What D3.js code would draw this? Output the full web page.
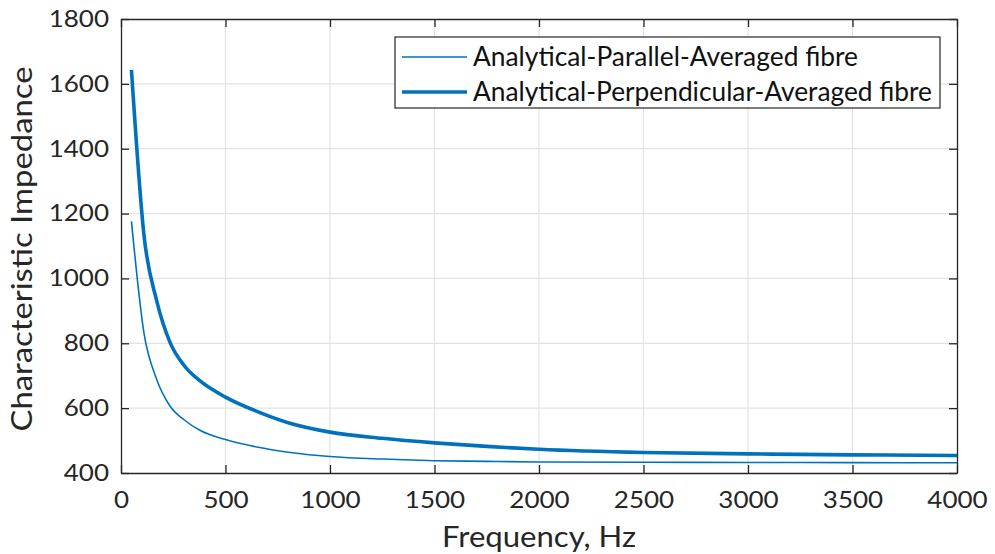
<!DOCTYPE html>
<html>
<head>
<meta charset="utf-8">
<script src="https://cdn.jsdelivr.net/npm/d3@7"></script>
<style>
  body { margin: 0; background: #fff; }
  svg { font-family: Lato, 'Open Sans', sans-serif; }
</style>
</head>
<body>
<div class="graph-area"></div>
<script>
const frequencies = [50, 110, 170, 235, 300, 380, 500, 650, 800, 1000, 1250, 1500, 1750, 2000, 2500, 3000, 3500, 4000];
const parallelValues = [1176, 831, 690, 606, 565, 531, 503, 480, 464, 451, 443, 438, 436, 434, 433, 432.5, 432, 431.5];
const perpendicularValues = [1643, 1133, 933, 802, 733, 683, 634, 590, 555, 526, 507, 493, 482, 473, 463, 459, 456, 454];
const xTicks = [0, 500, 1000, 1500, 2000, 2500, 3000, 3500, 4000];
const yTicks = [400, 600, 800, 1000, 1200, 1400, 1600, 1800];
const seriesNames = ['Analytical-Parallel-Averaged fibre', 'Analytical-Perpendicular-Averaged fibre'];

const style = {
  lineColor: '#0072BD',
  axisColor: '#262626',
  gridColor: '#e3e3e3',
  thinWidth: 1.6,
  thickWidth: 3.6,
};

const width = 995, height = 554;
const margin = {left: 121, right: 38, top: 19, bottom: 81};

const svg = d3.select('.graph-area')
  .append('svg')
  .attr('width', width)
  .attr('height', height);

const x = d3.scaleLinear().domain([0, 4000]).range([margin.left, width - margin.right]);
const y = d3.scaleLinear().domain([400, 1800]).range([height - margin.bottom, margin.top]);

// stretch text horizontally a bit, the source picture is wider than the font
const stretch = (sel, k) => sel.each(function () {
  const len = this.getComputedTextLength();
  d3.select(this).attr('textLength', len * k).attr('lengthAdjust', 'spacingAndGlyphs');
});

// grid
svg.append('g')
  .selectAll('line')
  .data(xTicks.slice(1, -1))
  .join('line')
  .attr('x1', d => x(d)).attr('x2', d => x(d))
  .attr('y1', y(400)).attr('y2', y(1800))
  .attr('stroke', style.gridColor).attr('stroke-width', 1.2);

svg.append('g')
  .selectAll('line')
  .data(yTicks.slice(1, -1))
  .join('line')
  .attr('x1', x(0)).attr('x2', x(4000))
  .attr('y1', d => y(d)).attr('y2', d => y(d))
  .attr('stroke', style.gridColor).attr('stroke-width', 1.2);

// axes (inward ticks, box on)
const tickLen = 8;
const fmt = d3.format('d');
const bottomAxis = svg.append('g')
  .attr('transform', `translate(0,${y(400)})`)
  .call(d3.axisBottom(x).tickValues(xTicks).tickFormat(fmt).tickSizeInner(-tickLen).tickSizeOuter(0).tickPadding(19));
const leftAxis = svg.append('g')
  .attr('transform', `translate(${x(0)},0)`)
  .call(d3.axisLeft(y).tickValues(yTicks).tickFormat(fmt).tickSizeInner(-tickLen).tickSizeOuter(0).tickPadding(12));
const topAxis = svg.append('g')
  .attr('transform', `translate(0,${y(1800)})`)
  .call(d3.axisTop(x).tickValues(xTicks).tickSizeInner(-tickLen).tickSizeOuter(0).tickFormat(''));
const rightAxis = svg.append('g')
  .attr('transform', `translate(${x(4000)},0)`)
  .call(d3.axisRight(y).tickValues(yTicks).tickSizeInner(-tickLen).tickSizeOuter(0).tickFormat(''));

[bottomAxis, leftAxis, topAxis, rightAxis].forEach(a => {
  a.select('.domain').attr('stroke', style.axisColor).attr('stroke-width', 1.3);
  a.selectAll('.tick line').attr('stroke', style.axisColor).attr('stroke-width', 1.3);
  a.selectAll('.tick text')
    .attr('fill', style.axisColor)
    .style('font-size', '23px')
    .style('font-family', 'Lato, sans-serif')
    .call(stretch, 1.13);
});

// lines
const line = values => d3.line()
  .x((d, i) => x(frequencies[i]))
  .y(d => y(d))
  .curve(d3.curveMonotoneX)(values);

svg.append('path')
  .attr('d', line(parallelValues))
  .attr('fill', 'none')
  .attr('stroke', style.lineColor)
  .attr('stroke-width', style.thinWidth);

svg.append('path')
  .attr('d', line(perpendicularValues))
  .attr('fill', 'none')
  .attr('stroke', style.lineColor)
  .attr('stroke-width', style.thickWidth);

// axis labels
svg.append('text')
  .attr('x', (x(0) + x(4000)) / 2)
  .attr('y', 547)
  .attr('text-anchor', 'middle')
  .attr('fill', style.axisColor)
  .style('font-size', '29px')
  .text('Frequency, Hz')
  .attr('textLength', 194).attr('lengthAdjust', 'spacingAndGlyphs');

svg.append('text')
  .attr('transform', `translate(32,${(y(400) + y(1800)) / 2 + 3}) rotate(-90)`)
  .attr('text-anchor', 'middle')
  .attr('fill', style.axisColor)
  .style('font-size', '29px')
  .text('Characteristic Impedance')
  .attr('textLength', 365).attr('lengthAdjust', 'spacingAndGlyphs');

// legend
const legendTextLen = [385, 459];
const legend = svg.append('g').attr('transform', 'translate(395,37)');
legend.append('rect')
  .attr('width', 545).attr('height', 71)
  .attr('fill', '#fff')
  .attr('stroke', style.axisColor).attr('stroke-width', 1.2);

seriesNames.forEach((name, i) => {
  const row = legend.append('g').attr('transform', `translate(0,${20 + i * 35})`);
  row.append('line')
    .attr('x1', 7).attr('x2', 72)
    .attr('stroke', style.lineColor)
    .attr('stroke-width', i === 0 ? style.thinWidth : style.thickWidth);
  row.append('text')
    .attr('x', 78).attr('dy', '0.36em')
    .attr('fill', '#111')
    .style('font-size', '26px')
    .text(name)
    .attr('textLength', legendTextLen[i]).attr('lengthAdjust', 'spacingAndGlyphs');
});
</script>
</body>
</html>
